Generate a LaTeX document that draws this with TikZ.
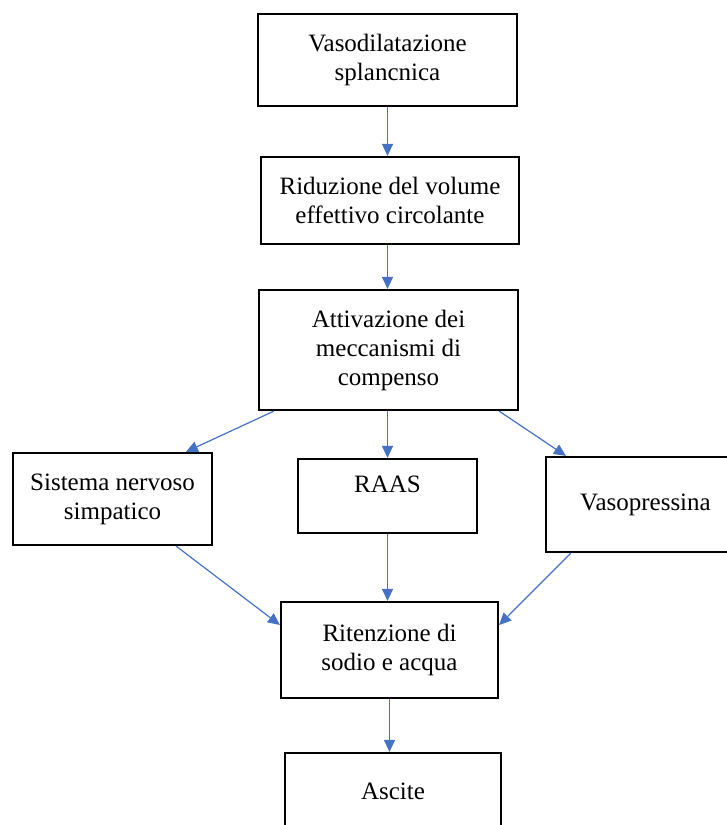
\documentclass[tikz,border=0pt]{standalone}
\usepackage{fontspec}
\setmainfont{Liberation Serif}
\usepackage{xcolor}
\usetikzlibrary{arrows.meta}
\definecolor{linkblue}{RGB}{68,114,196}
\tikzstyle{box}=[draw,line width=1.1pt,inner sep=0pt,align=center,font=\fontsize{12.5}{14.5}\selectfont]
\tikzstyle{link}=[draw=linkblue,line width=0.6pt,-{Triangle[length=6pt,width=5.5pt,fill=linkblue]}]

\begin{document}
\begin{tikzpicture}[x=0.5pt,y=-0.5pt]
    \useasboundingbox (0,0) rectangle (727,825);
    \node[box,minimum width=129.5pt,minimum height=46pt] (vaso) at (387.5,60) {Vasodilatazione\\splancnica};
    \node[box,minimum width=129pt,minimum height=43.5pt] (ridu) at (390,200.5) {Riduzione del volume\\effettivo circolante};
    \node[box,minimum width=129.5pt,minimum height=60pt] (attiv) at (388.5,350) {Attivazione dei\\meccanismi di\\compenso};
    \node[box,minimum width=99.5pt,minimum height=46pt] (sns) at (112.5,499) {Sistema nervoso\\simpatico};
    \node[box,minimum width=89.5pt,minimum height=37pt,text depth=12pt] (raas) at (387.5,496) {RAAS};
    \node[box,minimum width=99.5pt,minimum height=47.5pt] (vasop) at (645.5,504.5) {Vasopressina};
    \node[box,minimum width=108.5pt,minimum height=48pt] (riten) at (389.5,650) {Ritenzione di\\sodio e acqua};
    \node[box,minimum width=108pt,minimum height=38.5pt] (ascite) at (393,791.5) {Ascite};
    \draw[link] (vaso.south) -- (vaso.south |- ridu.north);
    \draw[link] (ridu.south -| vaso.south) -- (vaso.south |- attiv.north);
    \draw[link] ([xshift=8pt]attiv.south west) -- ([xshift=87pt]sns.north west);
    \draw[link] (attiv.south -| raas.north) -- (raas.north);
    \draw[link] ([xshift=-10pt]attiv.south east) -- ([xshift=10.5pt]vasop.north west);
    \draw[link] (raas.south) -- (raas.south |- riten.north);
    \draw[link] ([xshift=-18.5pt]sns.south east) -- ([yshift=12.5pt]riten.west);
    \draw[link] ([xshift=13pt]vasop.south west) -- ([yshift=12.5pt]riten.east);
    \draw[link] (riten.south) -- (riten.south |- ascite.north);
\end{tikzpicture}
\end{document}
